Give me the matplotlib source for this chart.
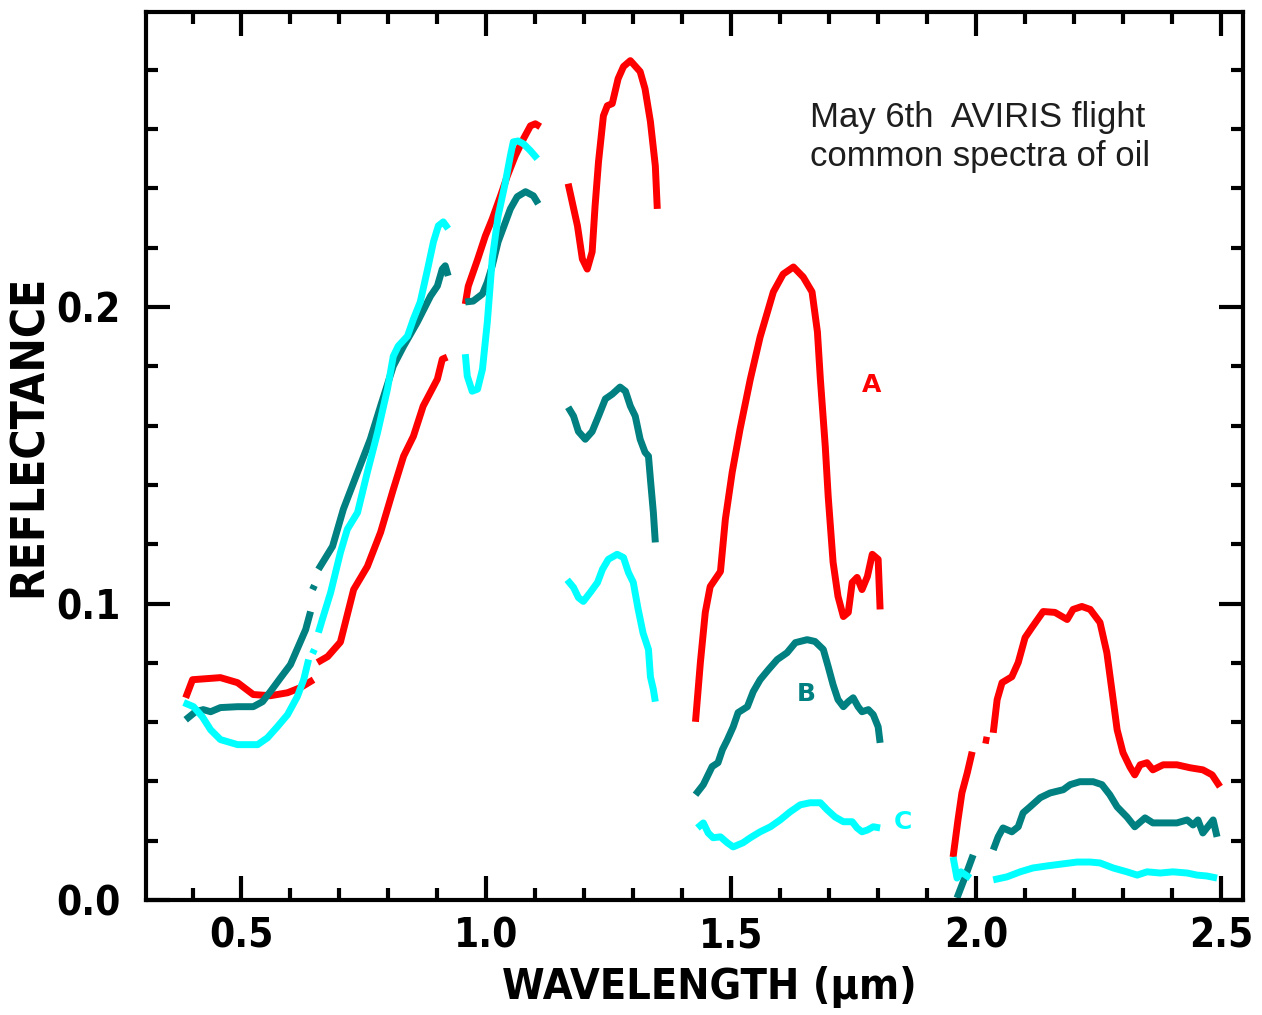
import numpy as np
import matplotlib
matplotlib.use("Agg")
import matplotlib.pyplot as plt
from matplotlib.ticker import MultipleLocator, FixedLocator
from matplotlib import font_manager as fm

nan = np.nan

# ---- Spectrum A (red) ----
wl_a = [0.386, 0.400, 0.457, 0.492, 0.524, 0.559, 0.594, 0.620, 0.647, nan,
        0.655, 0.676, 0.702, 0.729, 0.757, 0.784, 0.810, 0.831, 0.851, 0.871, 0.886, 0.900, 0.910, 0.920, nan,
        0.957, 0.963, 0.982, 0.998, 1.012, 1.029, 1.043, 1.059, 1.076, 1.090, 1.100, 1.110, nan,
        1.167, 1.186, 1.196, 1.206, 1.216, 1.222, 1.229, 1.239, 1.247, 1.257, 1.269, 1.280, 1.294, 1.314, 1.324, 1.335, 1.345, 1.349, nan,
        1.427, 1.437, 1.447, 1.457, 1.478, 1.488, 1.502, 1.518, 1.539, 1.559, 1.586, 1.606, 1.627, 1.647, 1.665, 1.676, 1.682, 1.692,
        1.698, 1.708, 1.718, 1.729, 1.739, 1.747, 1.757, 1.767, 1.778, 1.788, 1.800, 1.804, nan,
        1.953, 1.963, 1.971, 1.982, 1.992, nan,
        2.014, 2.027, nan,
        2.035, 2.043, 2.053, 2.073, 2.086, 2.100, 2.114, 2.137, 2.161, 2.186, 2.198, 2.216, 2.233, 2.253, 2.267, 2.278, 2.288, 2.300,
        2.314, 2.324, 2.335, 2.349, 2.361, 2.382, 2.410, 2.437, 2.463, 2.482, 2.498]
refl_a = [0.0682, 0.0743, 0.0750, 0.0733, 0.0693, 0.0689, 0.0699, 0.0716, 0.0743, nan,
          0.0801, 0.0821, 0.0870, 0.1047, 0.1125, 0.1240, 0.1385, 0.1497, 0.1564, 0.1666, 0.1713, 0.1757, 0.1824, 0.1831, nan,
          0.2010, 0.2070, 0.2160, 0.2240, 0.2297, 0.2375, 0.2443, 0.2510, 0.2568, 0.2611, 0.2618, 0.2608, nan,
          0.2416, 0.2274, 0.2162, 0.2128, 0.2186, 0.2341, 0.2490, 0.2645, 0.2679, 0.2686, 0.2770, 0.2811, 0.2831, 0.2794, 0.2736, 0.2625, 0.2476, 0.2331, nan,
          0.0601, 0.0801, 0.0970, 0.1057, 0.1108, 0.1284, 0.1443, 0.1588, 0.1757, 0.1899, 0.2051, 0.2111, 0.2135, 0.2101, 0.2051, 0.1916, 0.1757, 0.1530,
          0.1361, 0.1139, 0.1024, 0.0956, 0.0970, 0.1071, 0.1088, 0.1047, 0.1091, 0.1166, 0.1149, 0.0980, nan,
          0.0145, 0.0270, 0.0361, 0.0429, 0.0500, nan,
          0.0541, 0.0537, nan,
          0.0564, 0.0676, 0.0733, 0.0753, 0.0801, 0.0885, 0.0919, 0.0973, 0.0970, 0.0946, 0.0980, 0.0990, 0.0980, 0.0936, 0.0834, 0.0699, 0.0574, 0.0497,
          0.0449, 0.0422, 0.0456, 0.0463, 0.0439, 0.0456, 0.0456, 0.0446, 0.0439, 0.0422, 0.0382]

# ---- Spectrum B (teal) ----
wl_b = [0.386, 0.406, 0.422, 0.437, 0.457, 0.492, 0.524, 0.543, 0.559, 0.580, 0.600, 0.616, 0.631, 0.641, nan,
        0.645, 0.649, nan,
        0.657, 0.686, 0.708, 0.737, 0.763, 0.784, 0.810, 0.831, 0.859, 0.880, 0.886, 0.900, 0.910, 0.916, 0.922, nan,
        0.957, 0.973, 0.992, 1.002, 1.012, 1.024, 1.039, 1.049, 1.063, 1.080, 1.096, 1.106, nan,
        1.167, 1.178, 1.188, 1.202, 1.216, 1.229, 1.243, 1.257, 1.273, 1.284, 1.294, 1.304, 1.314, 1.324, 1.331, 1.335, 1.341, 1.345, nan,
        1.427, 1.443, 1.461, 1.473, 1.482, 1.492, 1.504, 1.514, 1.533, 1.545, 1.559, 1.576, 1.594, 1.614, 1.631, 1.655, 1.671, 1.688,
        1.698, 1.708, 1.718, 1.729, 1.739, 1.749, 1.759, 1.767, 1.780, 1.790, 1.800, 1.804, nan,
        1.961, 1.978, 1.994, nan,
        2.035, 2.045, 2.055, 2.073, 2.086, 2.096, 2.110, 2.131, 2.151, 2.178, 2.192, 2.212, 2.239, 2.257, 2.273, 2.288, 2.308, 2.324,
        2.345, 2.361, 2.382, 2.410, 2.431, 2.443, 2.453, 2.463, 2.473, 2.484, 2.492]
refl_b = [0.0608, 0.0635, 0.0642, 0.0635, 0.0649, 0.0652, 0.0652, 0.0669, 0.0703, 0.0750, 0.0794, 0.0855, 0.0912, 0.0973, nan,
          0.1047, 0.1061, nan,
          0.1115, 0.1193, 0.1318, 0.1443, 0.1554, 0.1666, 0.1801, 0.1868, 0.1949, 0.2017, 0.2037, 0.2071, 0.2128, 0.2139, 0.2105, nan,
          0.2017, 0.2020, 0.2044, 0.2084, 0.2139, 0.2220, 0.2287, 0.2331, 0.2372, 0.2389, 0.2375, 0.2348, nan,
          0.1662, 0.1632, 0.1580, 0.1554, 0.1580, 0.1632, 0.1690, 0.1706, 0.1730, 0.1716, 0.1666, 0.1632, 0.1554, 0.1510, 0.1497, 0.1419, 0.1307, 0.1206, nan,
          0.0355, 0.0389, 0.0450, 0.0463, 0.0507, 0.0540, 0.0584, 0.0632, 0.0652, 0.0703, 0.0743, 0.0777, 0.0811, 0.0834, 0.0868, 0.0878, 0.0872, 0.0845,
          0.0787, 0.0726, 0.0676, 0.0652, 0.0669, 0.0682, 0.0652, 0.0635, 0.0642, 0.0625, 0.0584, 0.0530, nan,
          0.0007, 0.0080, 0.0152, nan,
          0.0169, 0.0213, 0.0243, 0.0230, 0.0247, 0.0294, 0.0314, 0.0345, 0.0361, 0.0372, 0.0389, 0.0399, 0.0399, 0.0389, 0.0355, 0.0314, 0.0280, 0.0247,
          0.0277, 0.0260, 0.0260, 0.0260, 0.0270, 0.0253, 0.0270, 0.0226, 0.0247, 0.0270, 0.0213]

# ---- Spectrum C (cyan) ----
wl_c = [0.382, 0.402, 0.420, 0.437, 0.457, 0.492, 0.533, 0.553, 0.573, 0.594, 0.614, 0.627, 0.637, nan,
        0.645, 0.649, nan,
        0.657, 0.665, 0.682, 0.702, 0.716, 0.737, 0.757, 0.778, 0.798, 0.810, 0.820, 0.839, 0.851, 0.865, 0.880, 0.892, 0.902, 0.912, 0.922, nan,
        0.957, 0.961, 0.971, 0.982, 0.992, 1.002, 1.012, 1.024, 1.039, 1.049, 1.055, 1.065, 1.076, 1.090, 1.104, nan,
        1.165, 1.178, 1.188, 1.198, 1.212, 1.227, 1.237, 1.249, 1.267, 1.280, 1.290, 1.300, 1.310, 1.320, 1.331, 1.335, 1.341, 1.345, nan,
        1.431, 1.443, 1.453, 1.463, 1.478, 1.492, 1.504, 1.524, 1.539, 1.559, 1.580, 1.600, 1.620, 1.641, 1.661, 1.682, 1.696, 1.712,
        1.729, 1.747, 1.757, 1.767, 1.778, 1.790, 1.804, nan,
        1.953, 1.961, 1.969, 1.988, nan,
        2.035, 2.063, 2.090, 2.116, 2.145, 2.178, 2.206, 2.233, 2.253, 2.280, 2.308, 2.329, 2.349, 2.376, 2.402, 2.431, 2.451, 2.471, 2.492]
refl_c = [0.0666, 0.0652, 0.0618, 0.0574, 0.0541, 0.0524, 0.0524, 0.0547, 0.0584, 0.0625, 0.0686, 0.0743, 0.0811, nan,
          0.0831, 0.0845, nan,
          0.0902, 0.0946, 0.1037, 0.1172, 0.1250, 0.1307, 0.1443, 0.1578, 0.1723, 0.1834, 0.1868, 0.1902, 0.1959, 0.2017, 0.2128, 0.2220, 0.2274, 0.2287, 0.2264, nan,
          0.1841, 0.1767, 0.1716, 0.1723, 0.1790, 0.1950, 0.2162, 0.2307, 0.2422, 0.2510, 0.2557, 0.2560, 0.2550, 0.2527, 0.2500, nan,
          0.1080, 0.1054, 0.1020, 0.1007, 0.1037, 0.1071, 0.1115, 0.1149, 0.1166, 0.1155, 0.1105, 0.1071, 0.0980, 0.0900, 0.0845, 0.0753, 0.0710, 0.0669, nan,
          0.0243, 0.0260, 0.0226, 0.0210, 0.0213, 0.0193, 0.0179, 0.0193, 0.0210, 0.0230, 0.0247, 0.0270, 0.0297, 0.0321, 0.0328, 0.0328, 0.0304, 0.0280,
          0.0264, 0.0264, 0.0243, 0.0230, 0.0236, 0.0247, 0.0243, nan,
          0.0145, 0.0074, 0.0095, 0.0074, nan,
          0.0068, 0.0078, 0.0095, 0.0108, 0.0115, 0.0122, 0.0128, 0.0128, 0.0125, 0.0108, 0.0095, 0.0084, 0.0095, 0.0091, 0.0095, 0.0091, 0.0084, 0.0081, 0.0074]

series_labels = ["A", "B", "C"]
series_colors = ["#ff0000", "#008080", "#00ffff"]
x_ticks = [0.5, 1.0, 1.5, 2.0, 2.5]
x_ticklabels = ["0.5", "1.0", "1.5", "2.0", "2.5"]
y_ticks = [0.0, 0.1, 0.2]
y_ticklabels = ["0.0", "0.1", "0.2"]
title_lines = ["May 6th  AVIRIS flight", "common spectra of oil"]

# Condensed bold font if one is installed, otherwise a smaller bold font
cond_fp = fm.FontProperties(family="DejaVu Sans", weight="bold", stretch="condensed")
cond_file = fm.findfont(cond_fp, fallback_to_default=True)
narrow = None
for f in fm.fontManager.ttflist:
    if f.name in ("Liberation Sans Narrow",) and f.weight in (700, "bold"):
        narrow = f.fname
        break
if narrow is not None:
    lab_fp = dict(fname=narrow)
    scale = 1.0
elif "Condensed" in cond_file:
    lab_fp = dict(fname=cond_file)
    scale = 1.0
else:
    lab_fp = dict(family="DejaVu Sans", weight="bold")
    scale = 0.85


def fp(size):
    return fm.FontProperties(size=size, **lab_fp)


fig = plt.figure(figsize=(12.62, 10.15), dpi=100)
ax = fig.add_axes([146/1262, 1 - 900/1015, (1243 - 146)/1262, (900 - 12)/1015])

for wl, refl, col in zip([wl_a, wl_b, wl_c], [refl_a, refl_b, refl_c], series_colors):
    ax.plot(wl, refl, color=col, lw=5.0, solid_capstyle="butt", solid_joinstyle="round")

ax.set_xlim(0.305, 2.545)
ax.set_ylim(0.0, 0.2995)

ax.xaxis.set_major_locator(FixedLocator(x_ticks))
ax.xaxis.set_minor_locator(MultipleLocator(0.1))
ax.yaxis.set_major_locator(FixedLocator(y_ticks))
ax.yaxis.set_minor_locator(MultipleLocator(0.02))
ax.set_xticklabels(x_ticklabels)
ax.set_yticklabels(y_ticklabels)
for lab in ax.get_xticklabels() + ax.get_yticklabels():
    lab.set_fontproperties(fp(29 * scale))
    if "fname" not in lab_fp:
        lab.set_fontweight("bold")

ax.tick_params(which="both", direction="in", top=True, right=True, width=3, color="black")
ax.tick_params(which="major", length=17)
ax.tick_params(which="minor", length=8.5)
ax.tick_params(axis="x", which="major", pad=12)
ax.tick_params(axis="y", which="major", pad=18)
for sp in ax.spines.values():
    sp.set_linewidth(3)

xl = ax.set_xlabel("WAVELENGTH (\u03bcm)", fontproperties=fp(31 * scale))
yl = ax.set_ylabel("REFLECTANCE", fontproperties=fp(33 * scale))
if "fname" not in lab_fp:
    xl.set_fontweight("bold")
    yl.set_fontweight("bold")
ax.xaxis.set_label_coords(0.514, -0.074)
ax.yaxis.set_label_coords(-0.086, 0.5225)

ax.text(1.661, 0.2608, title_lines[0], fontsize=25, family=["Liberation Sans", "DejaVu Sans"], color="#1e1e1e")
ax.text(1.661, 0.2476, title_lines[1], fontsize=25, family=["Liberation Sans", "DejaVu Sans"], color="#1e1e1e")

label_pos = [(1.786, 0.1736), (1.653, 0.0696), (1.851, 0.0264)]
for lab, col, (lx, ly) in zip(series_labels, series_colors, label_pos):
    ax.text(lx, ly, lab, color=col, fontsize=18, fontweight="bold", ha="center", va="center",
            family=["DejaVu Sans"])

fig.savefig("out.png", dpi=100)
